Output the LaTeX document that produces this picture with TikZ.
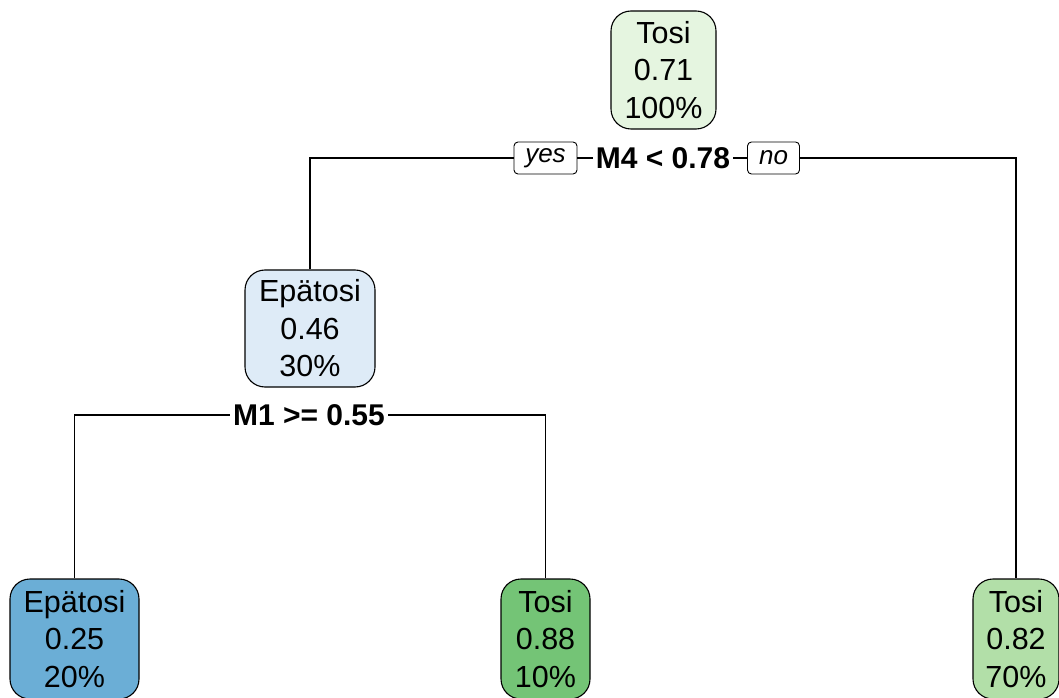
\documentclass[tikz,border=0pt]{standalone}
\usepackage{fontspec}
\setmainfont{Liberation Sans}
\definecolor{rootc}{HTML}{E5F5E0}
\definecolor{bluel}{HTML}{DEEBF7}
\definecolor{blued}{HTML}{6BAED6}
\definecolor{greend}{HTML}{74C476}
\definecolor{greenm}{HTML}{B2DFA8}
\begin{document}
\begin{tikzpicture}[x=1pt,y=1pt,
  treenode/.style={draw=black, line width=1.1pt, rounded corners=20pt, inner sep=0pt,
    align=center, font=\fontsize{30.5}{37.5}\selectfont},
  splitlab/.style={inner xsep=3pt, inner ysep=2pt, font=\fontsize{30}{36}\selectfont\bfseries},
  yesno/.style={draw=black, line width=0.9pt, rounded corners=4pt, inner sep=0pt,
    font=\fontsize{26}{30}\selectfont\itshape},
  edge/.style={line width=1.1pt}]
\useasboundingbox (0,0) rectangle (1059,697);
\clip (0,0) rectangle (1059,697);
% root
\node[treenode, fill=rootc, minimum width=105pt, minimum height=118pt] (root) at (663.5,627) {Tosi\\0.71\\100\%};
\node[splitlab] (s1) at (663,539) {M4 < 0.78};
\node[yesno, minimum width=63pt, minimum height=32pt] (yes) at (545.5,539) {yes};
\node[yesno, minimum width=52pt, minimum height=32pt] (no) at (773.5,539) {no};
% second level
\node[treenode, fill=bluel, minimum width=130pt, minimum height=117pt] (n2) at (310,368.5) {Epätosi\\0.46\\30\%};
\node[splitlab] (s2) at (309,282) {M1 >= 0.55};
% leaves
\node[treenode, fill=blued, minimum width=129pt, minimum height=120pt] (l1) at (74.5,58) {Epätosi\\0.25\\20\%};
\node[treenode, fill=greend, minimum width=89pt, minimum height=120pt] (l2) at (545.5,58) {Tosi\\0.88\\10\%};
\node[treenode, fill=greenm, minimum width=86pt, minimum height=120pt] (l3) at (1016,58) {Tosi\\0.82\\70\%};
% connectors
\draw[edge] (n2.north) |- (yes.west);
\draw[edge] (yes.east) -- (s1.west);
\draw[edge] (s1.east) -- (no.west);
\draw[edge] (no.east) -| (l3.north);
\draw[edge] (l1.north) |- (s2.west);
\draw[edge] (s2.east) -| (l2.north);
\end{tikzpicture}
\end{document}
